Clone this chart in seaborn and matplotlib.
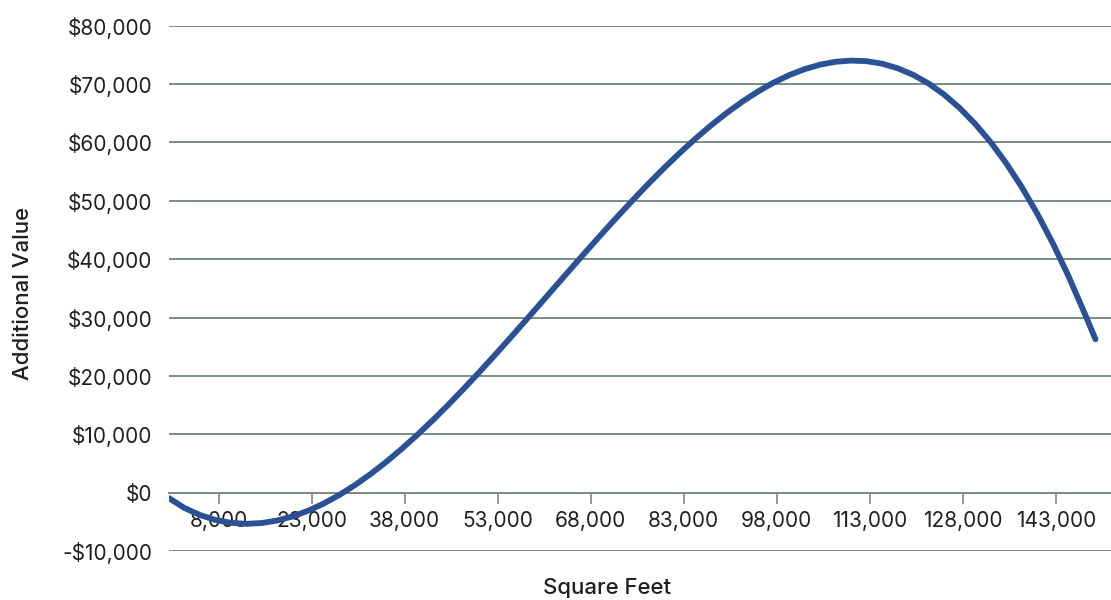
import matplotlib
matplotlib.use("Agg")
import matplotlib.pyplot as plt
import seaborn as sns
import pandas as pd
from matplotlib.ticker import FuncFormatter, FixedLocator

# Data
square_feet = [0, 2500, 5000, 7500, 10000, 12500, 15000, 17500, 20000, 22500,
               25000, 27500, 30000, 32500, 35000, 37500, 40000, 42500, 45000,
               47500, 50000, 52500, 55000, 57500, 60000, 62500, 65000, 67500,
               70000, 72500, 75000, 77500, 80000, 82500, 85000, 87500, 90000,
               92500, 95000, 97500, 100000, 102500, 105000, 107500, 110000,
               112500, 115000, 117500, 120000, 122500, 125000, 127500, 130000,
               132500, 135000, 137500, 140000, 142500, 145000, 147500, 149400]
additional_value = [-900, -2590, -3790, -4630, -5130, -5300, -5160, -4720, -4010,
                    -3030, -1800, -340, 1340, 3220, 5280, 7510, 9890, 12410,
                    15050, 17800, 20630, 23540, 26500, 29510, 32540, 35580,
                    38620, 41630, 44600, 47520, 50370, 53140, 55800, 58340,
                    60750, 63020, 65110, 67030, 68750, 70250, 71530, 72560,
                    73330, 73820, 74020, 73920, 73490, 72710, 71590, 70090,
                    68200, 65900, 63190, 60050, 56450, 52380, 47830, 42780,
                    37220, 31120, 26300]
x_ticks = [8000, 23000, 38000, 53000, 68000, 83000, 98000, 113000, 128000, 143000]
y_ticks = [-10000, 0, 10000, 20000, 30000, 40000, 50000, 60000, 70000, 80000]

df = pd.DataFrame({"Square Feet": square_feet, "Additional Value": additional_value})

sns.set_theme(style="white")
plt.rcParams["font.family"] = ["Inter", "DejaVu Sans"]

LINE = "#2a5196"
GRID = "#7b8c86"
TEXT = "#231f20"

fig = plt.figure(figsize=(11.11, 6.0), dpi=100)
ax = fig.add_axes([0.1521, 0.0812, 0.8479, 0.876])

sns.lineplot(data=df, x="Square Feet", y="Additional Value", ax=ax,
             color=LINE, linewidth=4.2, solid_capstyle="round",
             solid_joinstyle="round", zorder=5)

ax.set_xlim(0, 151900)
ax.set_ylim(-10000, 80000)

ax.yaxis.set_major_locator(FixedLocator(y_ticks))
ax.xaxis.set_major_locator(FixedLocator(x_ticks))


def money(v, pos=None):
    v = int(round(v))
    if v < 0:
        return "-${:,}".format(-v)
    return "${:,}".format(v)


ax.yaxis.set_major_formatter(FuncFormatter(money))
ax.xaxis.set_major_formatter(FuncFormatter(lambda v, p: "{:,}".format(int(v))))

ax.grid(axis="y", color=GRID, linewidth=1.4)
ax.grid(axis="x", visible=False)
ax.set_axisbelow(True)

for s in ["left", "right", "top"]:
    ax.spines[s].set_visible(False)
ax.spines["bottom"].set_position(("data", 0))
ax.spines["bottom"].set_color(GRID)
ax.spines["bottom"].set_linewidth(1.4)

ax.tick_params(axis="y", length=0, pad=12, labelsize=15, labelcolor=TEXT)
ax.tick_params(axis="x", direction="out", length=8, width=1.2, color=GRID,
               pad=5, labelsize=15, labelcolor=TEXT, bottom=True)

ax.set_xlabel("Square Feet", fontsize=16, color=TEXT, fontweight="medium")
ax.set_ylabel("Additional Value", fontsize=16, color=TEXT, fontweight="medium")
ax.xaxis.set_label_coords(0.465, -0.05)
ax.yaxis.set_label_coords(-0.144, 0.49)

fig.savefig("out.png", dpi=100, facecolor="white")
